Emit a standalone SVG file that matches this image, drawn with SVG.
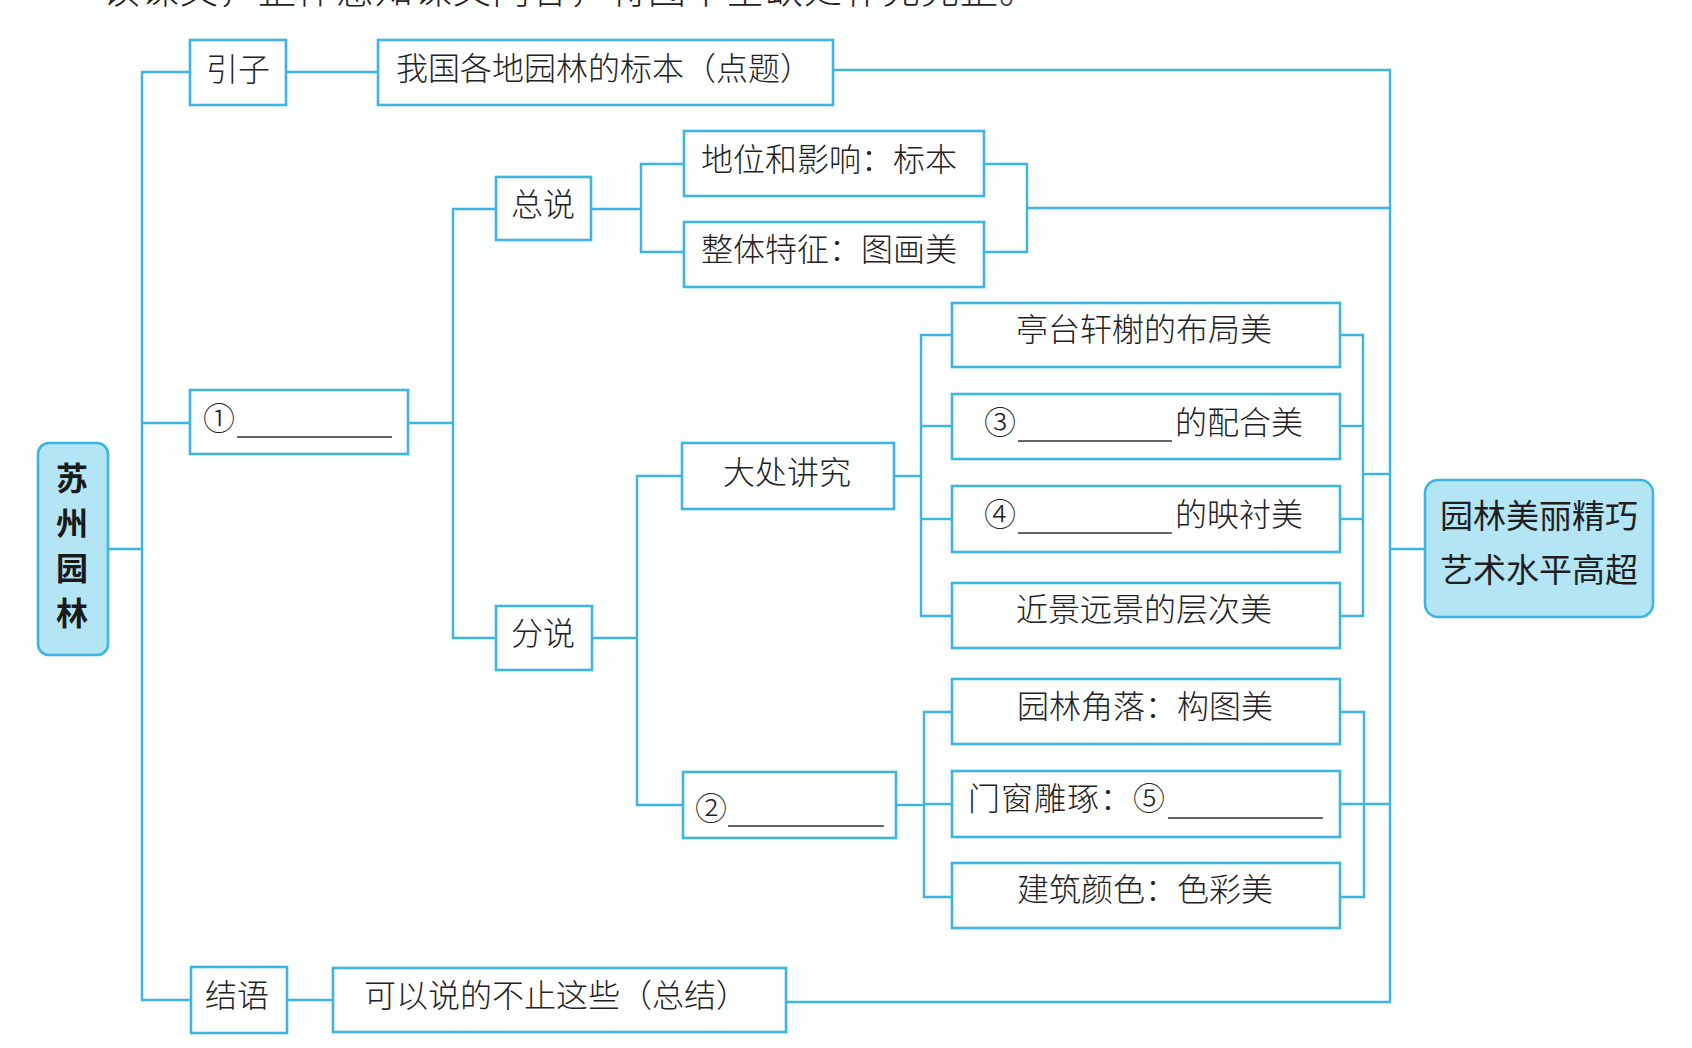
<svg xmlns="http://www.w3.org/2000/svg" width="1692" height="1048" viewBox="0 0 1692 1048">
<style>
.bg{fill:#fdfefe}
.box{fill:#ffffff;stroke:#3cb5e3;stroke-width:2.6}
.hl{fill:#b3e5f5;stroke:#3cb5e3;stroke-width:2.6}
.cn{fill:none;stroke:#3cb5e3;stroke-width:2.4}
.t{font-family:"Noto Sans CJK SC","Noto Sans",sans-serif;font-size:32px;font-weight:300;fill:#222;dominant-baseline:central}
.m{text-anchor:middle}
.b{font-weight:700;font-size:32px;fill:#1a1a1a}
.h{font-weight:400;font-size:33px;fill:#1f1f1f}
.u{stroke:#333;stroke-width:1.6}
</style>
<rect class="bg" x="0" y="0" width="1692" height="1048"/>
<text class="t" x="102" y="3" style="font-size:38px;dominant-baseline:alphabetic;letter-spacing:1px">读课文，整体感知课文内容，将图中空缺处补充完整。</text>
<g id="connectors">
<path class="cn" d="M108 549 H142"/>
<path class="cn" d="M190 72 H142 V1000 H191"/>
<path class="cn" d="M142 423 H190"/>
<path class="cn" d="M286 72 H378"/>
<path class="cn" d="M833 70 H1390 V1002 H786"/>
<path class="cn" d="M408 423 H453"/>
<path class="cn" d="M496 209 H453 V638 H496"/>
<path class="cn" d="M591 209 H641"/>
<path class="cn" d="M684 164 H641 V252 H684"/>
<path class="cn" d="M984 164 H1027 V252 H984"/>
<path class="cn" d="M1027 208 H1390"/>
<path class="cn" d="M592 638 H637"/>
<path class="cn" d="M682 476 H637 V805 H683"/>
<path class="cn" d="M894 476 H921"/>
<path class="cn" d="M952 335 H921 V616 H952"/>
<path class="cn" d="M921 426 H952"/>
<path class="cn" d="M921 519 H952"/>
<path class="cn" d="M1340 335 H1363 V616 H1340"/>
<path class="cn" d="M1340 426 H1363"/>
<path class="cn" d="M1340 519 H1363"/>
<path class="cn" d="M1363 474 H1390"/>
<path class="cn" d="M896 805 H924"/>
<path class="cn" d="M952 712 H924 V897 H952"/>
<path class="cn" d="M924 804 H952"/>
<path class="cn" d="M1340 712 H1364 V897 H1340"/>
<path class="cn" d="M1340 804 H1390"/>
<path class="cn" d="M287 1000 H333"/>
<path class="cn" d="M1390 549 H1425"/>
</g>
<g id="root">
<rect class="hl" x="38" y="443" width="70" height="212" rx="11"/>
<text class="t m b" x="72" y="476">苏</text>
<text class="t m b" x="72" y="521">州</text>
<text class="t m b" x="72" y="566">园</text>
<text class="t m b" x="72" y="611">林</text>
</g>
<g id="yinzi">
<rect class="box" x="190" y="40" width="96" height="65"/>
<text class="t m" x="238" y="67">引子</text>
</g>
<g id="biaoben">
<rect class="box" x="378" y="40" width="455" height="65"/>
<text class="t m" x="604" y="66">我国各地园林的标本（点题）</text>
</g>
<g id="blank1">
<rect class="box" x="190" y="390" width="218" height="64"/>
<text class="t" x="203" y="416">①</text>
<line class="u" x1="237" y1="437" x2="392" y2="437"/>
</g>
<g id="zongshuo">
<rect class="box" x="496" y="177" width="95" height="63"/>
<text class="t m" x="543" y="202">总说</text>
</g>
<g id="diwei">
<rect class="box" x="684" y="131" width="300" height="65"/>
<text class="t" x="701" y="157">地位和影响：标本</text>
</g>
<g id="zhengti">
<rect class="box" x="684" y="222" width="300" height="65"/>
<text class="t" x="701" y="247">整体特征：图画美</text>
</g>
<g id="fenshuo">
<rect class="box" x="496" y="606" width="96" height="64"/>
<text class="t m" x="543" y="631">分说</text>
</g>
<g id="dachu">
<rect class="box" x="682" y="443" width="212" height="66"/>
<text class="t m" x="787" y="470">大处讲究</text>
</g>
<g id="tingtai">
<rect class="box" x="952" y="303" width="388" height="64"/>
<text class="t m" x="1144" y="327">亭台轩榭的布局美</text>
</g>
<g id="blank3">
<rect class="box" x="952" y="394" width="388" height="65"/>
<text class="t" x="984" y="420">③</text>
<line class="u" x1="1018" y1="441" x2="1172" y2="441"/>
<text class="t" x="1175" y="420">的配合美</text>
</g>
<g id="blank4">
<rect class="box" x="952" y="486" width="388" height="66"/>
<text class="t" x="984" y="512">④</text>
<line class="u" x1="1018" y1="533" x2="1172" y2="533"/>
<text class="t" x="1175" y="512">的映衬美</text>
</g>
<g id="jinjing">
<rect class="box" x="952" y="583" width="388" height="65"/>
<text class="t m" x="1144" y="607">近景远景的层次美</text>
</g>
<g id="blank2">
<rect class="box" x="683" y="772" width="213" height="66"/>
<text class="t" x="695" y="806">②</text>
<line class="u" x1="728" y1="826" x2="884" y2="826"/>
</g>
<g id="jiaoluo">
<rect class="box" x="952" y="679" width="388" height="65"/>
<text class="t m" x="1145" y="704">园林角落：构图美</text>
</g>
<g id="menchuang">
<rect class="box" x="952" y="771" width="388" height="66"/>
<text class="t" x="968" y="796" style="letter-spacing:1px">门窗雕琢：⑤</text>
<line class="u" x1="1168" y1="818" x2="1323" y2="818"/>
</g>
<g id="jianzhu">
<rect class="box" x="952" y="863" width="388" height="65"/>
<text class="t m" x="1145" y="887">建筑颜色：色彩美</text>
</g>
<g id="jieyu">
<rect class="box" x="191" y="967" width="96" height="66"/>
<text class="t m" x="237" y="993">结语</text>
</g>
<g id="zongjie">
<rect class="box" x="333" y="968" width="453" height="64"/>
<text class="t m" x="556" y="993">可以说的不止这些（总结）</text>
</g>
<g id="conclusion">
<rect class="hl" x="1425" y="480" width="228" height="137" rx="13"/>
<text class="t m h" x="1539" y="514">园林美丽精巧</text>
<text class="t m h" x="1539" y="568">艺术水平高超</text>
</g>
</svg>
